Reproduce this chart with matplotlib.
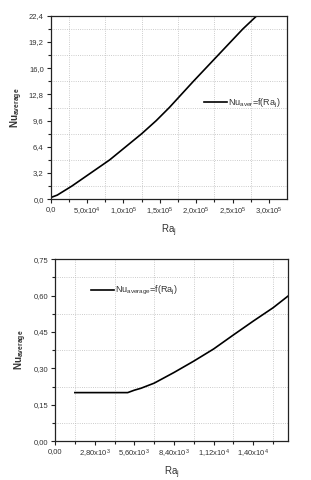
import matplotlib
matplotlib.use('Agg')
import matplotlib.pyplot as plt
from matplotlib.ticker import MultipleLocator

plt.rcParams['font.family'] = ['Liberation Sans', 'DejaVu Sans']
plt.rcParams['mathtext.default'] = 'regular'
plt.rcParams['font.size'] = 6

# curva superior
ra_top = [0, 9000, 29000, 55000, 81000, 103000, 125000, 145000, 163000,
          196000, 230000, 264000, 283000]
nu_top = [0.2, 0.5, 1.6, 3.2, 4.8, 6.4, 8.0, 9.6, 11.2,
          14.4, 17.6, 20.8, 22.4]
xt_top = [0, 50000, 100000, 150000, 200000, 250000, 300000]
xl_top = ['0,0', '5,0x10$^{4}$', '1,0x10$^{5}$', '1,5x10$^{5}$',
          '2,0x10$^{5}$', '2,5x10$^{5}$', '3,0x10$^{5}$']
yt_top = [0, 3.2, 6.4, 9.6, 12.8, 16.0, 19.2, 22.4]
yl_top = ['0,0', '3,2', '6,4', '9,6', '12,8', '16,0', '19,2', '22,4']

# curva inferior
ra_bot = [1400, 4200, 5130, 5600, 6070, 7000, 8400, 9800, 11200,
          12600, 14000, 15400, 16450]
nu_bot = [0.2, 0.2, 0.2, 0.21, 0.218, 0.239, 0.283, 0.33, 0.38,
          0.438, 0.495, 0.55, 0.598]
xt_bot = [0, 2800, 5600, 8400, 11200, 14000]
xl_bot = ['0,00', '2,80x10$^{3}$', '5,60x10$^{3}$', '8,40x10$^{3}$',
          '1,12x10$^{4}$', '1,40x10$^{4}$']
yt_bot = [0, 0.15, 0.30, 0.45, 0.60, 0.75]
yl_bot = ['0,00', '0,15', '0,30', '0,45', '0,60', '0,75']

fig = plt.figure(figsize=(3.11, 4.8), dpi=100)
ax1 = fig.add_axes([0.163, 0.585, 0.760, 0.382])
ax2 = fig.add_axes([0.177, 0.081, 0.750, 0.379])

txt = '#333333'


def estilo(ax, xt, xl, yt, yl, xminor, yminor):
    ax.set_xticks(xt)
    ax.set_xticklabels(xl)
    ax.set_yticks(yt)
    ax.set_yticklabels(yl)
    ax.xaxis.set_minor_locator(MultipleLocator(xminor))
    ax.yaxis.set_minor_locator(MultipleLocator(yminor))
    ax.tick_params(which='both', direction='out', colors='#222222',
                   labelcolor=txt, labelsize=5.5, width=0.8)
    ax.tick_params(which='major', length=3, pad=2)
    ax.tick_params(which='minor', length=2)
    ax.grid(True, which='minor', linestyle=':', color='#bbbbbb', linewidth=0.6)
    for s in ax.spines.values():
        s.set_linewidth(0.9)
        s.set_color('#222222')
    ax.set_xlabel('Ra$_{j}$', fontsize=7, color=txt, labelpad=3)
    ax.set_ylabel('Nu$_{average}$', fontsize=7, color=txt, fontweight='bold',
                  labelpad=3)


ax1.plot(ra_top, nu_top, color='black', linewidth=1.2,
         label='Nu$_{aver}$=f(Ra$_{j}$)')
ax1.set_xlim(0, 324700)
ax1.set_ylim(0, 22.4)
estilo(ax1, xt_top, xl_top, yt_top, yl_top, 25000, 1.6)
ax1.legend(loc='center left', bbox_to_anchor=(0.649, 0.524), frameon=False,
           fontsize=6.5, handlelength=2.5, handletextpad=0.2,
           borderpad=0, borderaxespad=0, labelcolor=txt)

ax2.plot(ra_bot, nu_bot, color='black', linewidth=1.2,
         label='Nu$_{average}$=f(Ra$_{j}$)')
ax2.set_xlim(0, 16470)
ax2.set_ylim(0, 0.75)
estilo(ax2, xt_bot, xl_bot, yt_bot, yl_bot, 1400, 0.075)
ax2.legend(loc='center left', bbox_to_anchor=(0.154, 0.826), frameon=False,
           fontsize=6.5, handlelength=2.5, handletextpad=0.2,
           borderpad=0, borderaxespad=0, labelcolor=txt)

fig.savefig('out.png', dpi=100)
